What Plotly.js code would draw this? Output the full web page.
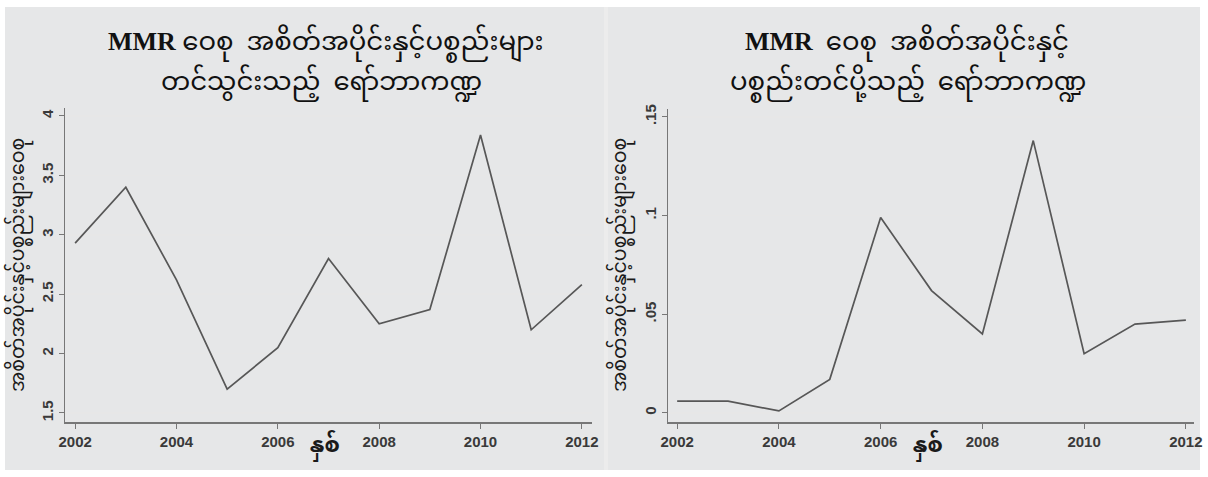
<!DOCTYPE html>
<html><head><meta charset="utf-8">
<script src="https://cdn.plot.ly/plotly-3.0.1.min.js"></script>
<style>html,body{margin:0;padding:0;background:#fff;}#c{width:1208px;height:477px;}</style>
</head><body><div id="c"></div>
<script>
const years = [2002,2003,2004,2005,2006,2007,2008,2009,2010,2011,2012];
const importShare = [2.93,3.40,2.62,1.70,2.05,2.80,2.25,2.37,3.84,2.20,2.58];
const exportShare = [0.006,0.006,0.001,0.017,0.099,0.062,0.040,0.138,0.030,0.045,0.047];
const xTicks = [2002,2004,2006,2008,2010,2012];
const leftYTicks = [1.5,2,2.5,3,3.5,4];
const leftYText = ['1.5','2','2.5','3','3.5','4'];
const rightYTicks = [0,0.05,0.1,0.15];
const rightYText = ['0','.05','.1','.15'];
const leftTitle1 = '<b>MMR</b> ဝေစု  အစိတ်အပိုင်းနှင့်ပစ္စည်းများ';
const leftTitle2 = 'တင်သွင်းသည့်  ရော်ဘာကဏ္ဍ';
const rightTitle1 = '<b>MMR</b>  ဝေစု  အစိတ်အပိုင်းနှင့်';
const rightTitle2 = 'ပစ္စည်းတင်ပို့သည့်  ရော်ဘာကဏ္ဍ';
const yTitle = 'အစိတ်အပိုင်းနှင့်ပစ္စည်းများဝေစု';
const xTitle = 'နှစ်';

const W = 1208, H = 477;
const px = v => v / W, py = v => 1 - v / H;
const lineStyle = {color:'#575757', width:1.7};
const tickFont = {family:'Liberation Sans, Arial, sans-serif', size:15, color:'#3a3a3a', weight:'bold'};
const gridC = '#e7e7e7';
function xa(domain, range){
  return {domain, range, tickvals:xTicks, ticktext:xTicks.map(String), ticks:'outside', ticklen:5, tickcolor:'#777',
    showline:true, linecolor:'#777', linewidth:1.5, showgrid:false, zeroline:false, tickfont:tickFont, fixedrange:true};
}
function ya(domain, range, tv, tt, anchor){
  return {domain, range, tickvals:tv, ticktext:tt, ticks:'outside', ticklen:5, tickcolor:'#777', tickangle:-90,
    showline:true, linecolor:'#777', linewidth:1.5, showgrid:true, gridcolor:gridC, gridwidth:1.5, zeroline:false,
    tickfont:tickFont, anchor, fixedrange:true};
}
const data = [
  {x:years, y:importShare, type:'scatter', mode:'lines', line:lineStyle, xaxis:'x', yaxis:'y', hoverinfo:'skip'},
  {x:years, y:exportShare, type:'scatter', mode:'lines', line:lineStyle, xaxis:'x2', yaxis:'y2', hoverinfo:'skip'}
];
const titleFont = {family:'Liberation Serif, Noto Sans Myanmar, Padauk, serif', size:26, color:'#111'};
const myFont = s => ({family:'Noto Sans Myanmar, Padauk, sans-serif', size:s, color:'#1a1a1a'});
function ann(text, x, y, font, extra){
  return Object.assign({text, xref:'paper', yref:'paper', x:px(x), y:py(y), xanchor:'center', yanchor:'middle', showarrow:false, font}, extra||{});
}
const layout = {
  width:W, height:H, margin:{l:0,r:0,t:0,b:0}, paper_bgcolor:'#fff', plot_bgcolor:'#fff', showlegend:false,
  xaxis: xa([px(65), px(592)], [2001.8, 2012.2]),
  yaxis: ya([py(422), py(108)], [1.424, 4.067], leftYTicks, leftYText, 'x'),
  xaxis2: xa([px(668), px(1194)], [2001.82, 2012.16]),
  yaxis2: ya([py(422), py(109)], [-0.0046, 0.154], rightYTicks, rightYText, 'x2'),
  shapes: [
    {type:'rect', xref:'paper', yref:'paper', x0:px(5), x1:px(1200), y0:py(470), y1:py(7), fillcolor:'#ececec', line:{width:0}, layer:'below'},
    {type:'rect', xref:'paper', yref:'paper', x0:px(5), x1:px(604), y0:py(470), y1:py(7), fillcolor:'#e6e7e8', line:{width:0}, layer:'below'},
    {type:'rect', xref:'paper', yref:'paper', x0:px(608), x1:px(1200), y0:py(470), y1:py(7), fillcolor:'#e6e7e8', line:{width:0}, layer:'below'}
  ],
  annotations: [
    ann(leftTitle1, 326, 43, titleFont),
    ann(leftTitle2, 322, 84, titleFont),
    ann(rightTitle1, 907, 43, titleFont),
    ann(rightTitle2, 908, 84, titleFont),
    ann(yTitle, 19, 265, myFont(19), {textangle:-90}),
    ann(yTitle, 621, 265, myFont(19), {textangle:-90}),
    ann('<b>'+xTitle+'</b>', 325, 447, myFont(22)),
    ann('<b>'+xTitle+'</b>', 928, 447, myFont(22))
  ]
};
Plotly.newPlot('c', data, layout, {staticPlot:true, displayModeBar:false});
</script></body></html>
